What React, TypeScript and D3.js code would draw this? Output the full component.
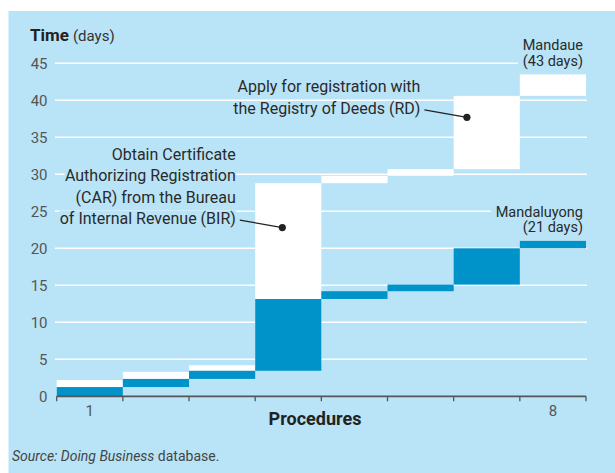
import React, { useEffect, useRef } from 'react'
import * as d3 from 'd3'

// step chart: cumulative days after each procedure
const procedures = [1, 2, 3, 4, 5, 6, 7, 8]
const tickLabels = ['1', '', '', '', '', '', '', '8']
const mandaluyongEnd = [1.25, 2.35, 3.45, 13.15, 14.2, 15.1, 20, 21]
const mandaueEnd = [2.2, 3.3, 4.2, 28.8, 29.8, 30.7, 40.6, 43.5]
const yTicks = [0, 5, 10, 15, 20, 25, 30, 35, 40, 45]

const annotations = [
  {
    lines: ['Obtain Certificate', 'Authorizing Registration', '(CAR) from the Bureau', 'of Internal Revenue (BIR)'],
    procedure: 4, frac: 0.41, value: 22.8, mask: true,
  },
  {
    lines: ['Apply for registration with', 'the Registry of Deeds (RD)'],
    procedure: 7, frac: 0.2, value: 37.7, mask: false,
  },
]

const seriesLabels = [
  { lines: ['Mandaue', '(43 days)'], total: mandaueEnd[mandaueEnd.length - 1] },
  { lines: ['Mandaluyong', '(21 days)'], total: mandaluyongEnd[mandaluyongEnd.length - 1] },
]

const BG = '#b9e4f7'
const BLUE = '#0093c9'
const FONT = 'Roboto, "Liberation Sans", sans-serif'

export default function App() {
  const ref = useRef<SVGSVGElement>(null)

  useEffect(() => {
    const svg = d3.select(ref.current)
    svg.selectAll('*').remove()

    const x = d3.scaleBand<number>().domain(procedures).range([56.7, 586]).padding(0)
    const y = d3.scaleLinear().domain([0, 45]).range([396.3, 63.3])
    const [x0, x1] = x.range()

    svg.append('rect')
      .attr('x', 8.5).attr('y', 11).attr('width', 607).attr('height', 462)
      .attr('fill', BG)

    // gridlines
    svg.append('g').selectAll('line')
      .data(yTicks.filter(d => d > 0))
      .enter().append('line')
      .attr('x1', x0 - 1.7).attr('x2', x1 + 1)
      .attr('y1', d => y(d)).attr('y2', d => y(d))
      .attr('stroke', '#fff').attr('stroke-width', 1.6)

    // y labels
    svg.append('g').selectAll('text')
      .data(yTicks)
      .enter().append('text')
      .attr('x', 47.5).attr('y', d => y(d) + 0.5)
      .attr('text-anchor', 'end').attr('dominant-baseline', 'central')
      .attr('font-family', FONT).attr('font-size', 15).attr('fill', '#555')
      .text(d => d)

    // white (Mandaue) steps behind blue (Mandaluyong) steps
    const drawSteps = (ends: number[], fill: string) => {
      svg.append('g').selectAll('rect')
        .data(ends)
        .enter().append('rect')
        .attr('x', (d, i) => x(procedures[i]) as number)
        .attr('width', x.bandwidth())
        .attr('y', d => y(d))
        .attr('height', (d, i) => y(i === 0 ? 0 : ends[i - 1]) - y(d))
        .attr('fill', fill)
    }
    drawSteps(mandaueEnd, '#fff')
    drawSteps(mandaluyongEnd, BLUE)

    // x axis
    const axis = svg.append('g')
    axis.append('line')
      .attr('x1', x0).attr('x2', x1).attr('y1', y(0)).attr('y2', y(0))
      .attr('stroke', '#555').attr('stroke-width', 1.8)
    const tickX = procedures.map(p => x(p) as number).concat([x1])
    axis.selectAll('line.tick')
      .data(tickX)
      .enter().append('line')
      .attr('class', 'tick')
      .attr('x1', d => d).attr('x2', d => d)
      .attr('y1', y(0)).attr('y2', y(0) + 5)
      .attr('stroke', '#555').attr('stroke-width', 1.3)
    axis.selectAll('text')
      .data(tickLabels)
      .enter().append('text')
      .attr('x', (d, i) => (x(procedures[i]) as number) + x.bandwidth() / 2)
      .attr('y', 416)
      .attr('text-anchor', 'middle')
      .attr('font-family', FONT).attr('font-size', 15).attr('fill', '#555')
      .text(d => d)

    // multi-line right-aligned text, optionally with a background box per line
    const addLines = (lines: string[], xr: number, lastBase: number, lh: number, fs: number, pad: number, mask: boolean) => {
      const g = svg.append('g')
      lines.forEach((line, i) => {
        const base = lastBase - (lines.length - 1 - i) * lh
        const t = g.append('text')
          .attr('x', xr).attr('y', base)
          .attr('text-anchor', 'end')
          .attr('font-family', FONT).attr('font-size', fs).attr('fill', '#2a2a2a')
          .text(line)
        if (mask) {
          const w = (t.node() as SVGTextElement).getComputedTextLength()
          g.insert('rect', 'text')
            .attr('x', xr - w - pad).attr('width', w + pad * 2)
            .attr('y', base - fs * 0.84).attr('height', fs * 1.0)
            .attr('fill', BG)
        }
      })
    }

    annotations.forEach(a => {
      const px = (x(a.procedure) as number) + x.bandwidth() * a.frac
      const py = y(a.value)
      addLines(a.lines, px - 46.5, py - 3.5, 21.5, 16, 0.5, a.mask)
      svg.append('line')
        .attr('x1', px - 42.5).attr('y1', py - 7.5)
        .attr('x2', px).attr('y2', py)
        .attr('stroke', '#222').attr('stroke-width', 1.2)
      svg.append('circle')
        .attr('cx', px).attr('cy', py).attr('r', 3.6)
        .attr('fill', '#222')
    })

    seriesLabels.forEach(s => {
      addLines(s.lines, x1 - 3, y(s.total) - 8.5, 15.5, 14.5, 5, true)
    })

    // titles
    const title = svg.append('text')
      .attr('x', 30).attr('y', 41)
      .attr('font-family', FONT).attr('fill', '#222')
    title.append('tspan').attr('font-size', 17).attr('font-weight', 'bold').text('Time')
    title.append('tspan').attr('font-size', 15).attr('dx', 4).attr('fill', '#333').text('(days)')

    svg.append('text')
      .attr('x', 315).attr('y', 425)
      .attr('text-anchor', 'middle')
      .attr('font-family', FONT).attr('font-size', 18).attr('font-weight', 'bold').attr('fill', '#222')
      .text('Procedures')

    const src = svg.append('text')
      .attr('x', 12).attr('y', 461)
      .attr('font-family', FONT).attr('font-size', 14).attr('fill', '#444')
    src.append('tspan').attr('font-style', 'italic').text('Source: Doing Business')
    src.append('tspan').text(' database.')
  }, [])

  return <svg ref={ref} width={615} height={473} style={{ position: 'absolute', left: 0, top: 0 }} />
}
